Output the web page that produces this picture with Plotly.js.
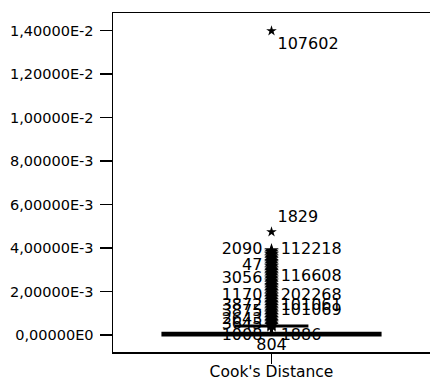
<!DOCTYPE html>
<html>
<head>
<meta charset="utf-8">
<script src="https://cdn.plot.ly/plotly-3.0.1.min.js"></script>
<style>html,body{margin:0;padding:0;background:#fff;}#chart{width:430px;height:381px;}</style>
</head>
<body>
<div id="chart"></div>
<script>
const category = "Cook's Distance";
const tickVals = [0, 0.002, 0.004, 0.006, 0.008, 0.010, 0.012, 0.014];
const tickText = ["0,00000E0", "2,00000E-3", "4,00000E-3", "6,00000E-3", "8,00000E-3", "1,00000E-2", "1,20000E-2", "1,40000E-2"];

// box statistics (compressed near zero)
const q1 = [0.00000];
const median = [0.00003];
const q3 = [0.00008];
const lowerFence = [0.00000];
const upperFence = [0.00041];

// extreme values (stars) with case labels
const extremeValues = [0.01398, 0.00474];
const extremeLabels = ["107602", "1829"];
const extremePos = ["bottom right", "top right"];

// dense column of outlier stars (unlabelled)
const denseValues = [0.00388, 0.00381, 0.00373, 0.00368, 0.00360, 0.00353, 0.00347, 0.00339, 0.00333, 0.00326,
  0.00318, 0.00313, 0.00305, 0.00298, 0.00292, 0.00284, 0.00277, 0.00271, 0.00263, 0.00257,
  0.00249, 0.00243, 0.00236, 0.00228, 0.00222, 0.00215, 0.00207, 0.00201, 0.00194, 0.00186,
  0.00180, 0.00173, 0.00166, 0.00159, 0.00151, 0.00145, 0.00138, 0.00131, 0.00124, 0.00117,
  0.00110, 0.00103, 0.00097, 0.00090, 0.00083, 0.00076, 0.00070, 0.00063, 0.00057, 0.00050, 0.00044];

// labels to the left of the column
const leftValues = [0.00391, 0.00317, 0.00257, 0.00179, 0.00133, 0.00106, 0.00069, 0.00046, -0.00006];
const leftLabels = ["2090", "47", "3056", "1170", "3872", "3875", "2643", "3645", "1008"];
// labels to the right of the column
const rightValues = [0.00391, 0.00267, 0.00179, 0.00133, 0.00110, -0.00006];
const rightLabels = ["112218", "116608", "202268", "101061", "101069", "1886"];
// label below the column
const belowValues = [-0.00012];
const belowLabels = ["804"];

const fam = "DejaVu Sans, Arial, sans-serif";
const labelFont = {family: fam, size: 16, color: "#000"};
const ghost = {size: 13, color: "rgba(0,0,0,0)"};

const traces = [
  {type: "scatter", mode: "markers+text", x: leftValues.map(() => category), y: leftValues, text: leftLabels,
   marker: ghost, textposition: "middle left", textfont: labelFont, showlegend: false, hoverinfo: "skip", cliponaxis: false},
  {type: "scatter", mode: "markers+text", x: rightValues.map(() => category), y: rightValues, text: rightLabels,
   marker: ghost, textposition: "middle right", textfont: labelFont, showlegend: false, hoverinfo: "skip", cliponaxis: false},
  {type: "scatter", mode: "text", x: belowValues.map(() => category), y: belowValues, text: belowLabels,
   textposition: "bottom center", textfont: labelFont, showlegend: false, hoverinfo: "skip", cliponaxis: false},
  {type: "box", x: [category], q1: q1, median: median, q3: q3, lowerfence: lowerFence, upperfence: upperFence,
   width: 0.685, boxpoints: false, fillcolor: "#000", line: {color: "#000", width: 3}, whiskerwidth: 0.34, showlegend: false},
  {type: "scatter", mode: "markers", x: denseValues.map(() => category), y: denseValues,
   marker: {symbol: "star", size: 11, color: "#000"}, showlegend: false, cliponaxis: false},
  {type: "scatter", mode: "markers+text", x: extremeValues.map(() => category), y: extremeValues, text: extremeLabels,
   textposition: extremePos, textfont: labelFont,
   marker: {symbol: "star", size: 8, color: "#000"}, showlegend: false, cliponaxis: false}
];

const layout = {
  width: 430, height: 381,
  margin: {l: 113, r: 0, t: 13, b: 29},
  paper_bgcolor: "#fff", plot_bgcolor: "#fff",
  font: {family: fam, size: 14, color: "#000"},
  xaxis: {type: "category", range: [-0.5, 0.5], showline: true, mirror: true, linecolor: "#000", linewidth: 1.5,
          ticks: "outside", ticklen: 10, tickcolor: "#000", tickwidth: 1.5, showgrid: false, zeroline: false,
          showticklabels: false, fixedrange: true,
          title: {text: category, font: {family: fam, size: 15.5, color: "#000"}, standoff: 8}},
  yaxis: {range: [-0.000782, 0.014804], showline: true, linecolor: "#000", linewidth: 1.5,
          ticks: "outside", ticklen: 12, tickcolor: "#000", tickwidth: 1.5, showgrid: false, zeroline: false,
          tickvals: tickVals, ticktext: tickText, ticklabelstandoff: 3,
          tickfont: {family: fam, size: 14.5, color: "#000"}, fixedrange: true}
};

Plotly.newPlot("chart", traces, layout, {staticPlot: true, displayModeBar: false});
</script>
</body>
</html>
